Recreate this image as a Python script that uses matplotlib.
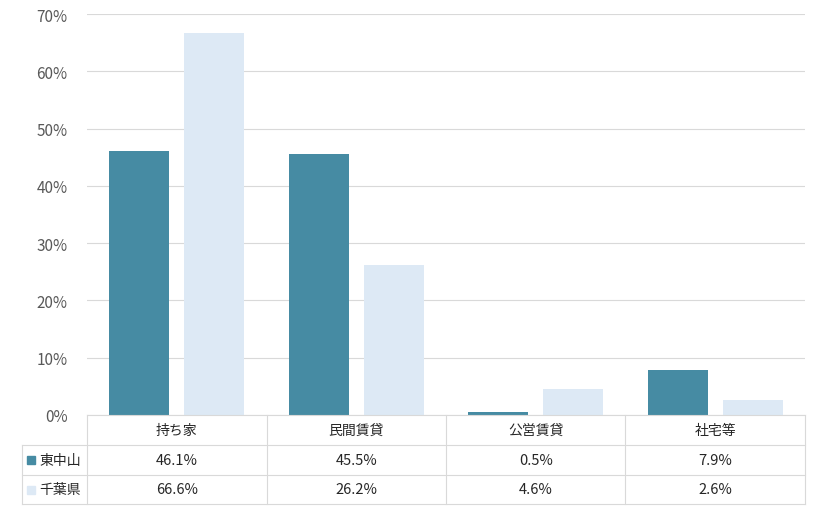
import matplotlib
matplotlib.use("Agg")
import matplotlib.pyplot as plt
from matplotlib.patches import Rectangle
import numpy as np

plt.rcParams['font.family'] = ['Noto Sans CJK JP', 'DejaVu Sans']

categories = ['持ち家', '民間賃貸', '公営賃貸', '社宅等']
series_names = ['東中山', '千葉県']
higashinakayama = [46.1, 45.5, 0.5, 7.9]
chiba = [66.6, 26.2, 4.6, 2.6]
colors = ['#468BA3', '#DDE9F5']

W, H = 820, 510
fig = plt.figure(figsize=(W / 100, H / 100), dpi=100)
x0, x1, ytop, ybot = 87, 805, 15, 416
ax = fig.add_axes([x0 / W, 1 - ybot / H, (x1 - x0) / W, (ybot - ytop) / H])

x = np.arange(len(categories))
bw = 0.334
ax.bar(x - 0.21, higashinakayama, bw, color=colors[0])
ax.bar(x + 0.21, chiba, bw, color=colors[1])
ax.set_xlim(-0.5, len(categories) - 0.5)
ax.set_ylim(0, 70)
ax.set_yticks(range(0, 71, 10))
ax.set_yticklabels([f'{v}%' for v in range(0, 71, 10)])
ax.set_xticks([])
ax.tick_params(axis='y', length=0, labelsize=11, colors='#595959', pad=14)
ax.grid(axis='y', color='#D9D9D9', linewidth=0.8)
ax.set_axisbelow(True)
for s in ax.spines.values():
    s.set_visible(False)

# data table below the plot
def fx(px):
    return px / W

def fy(py):
    return 1 - py / H

lc = '#D9D9D9'
rows = [416, 446, 476, 505]
cw = (x1 - x0) / len(categories)
for r in rows:
    left = x0 if r == 416 else 22
    fig.add_artist(plt.Line2D([fx(left), fx(x1)], [fy(r), fy(r)], color=lc, lw=0.8))
for k in range(len(categories) + 1):
    xp = x0 + k * cw
    fig.add_artist(plt.Line2D([fx(xp), fx(xp)], [fy(416), fy(505)], color=lc, lw=0.8))
fig.add_artist(plt.Line2D([fx(22), fx(22)], [fy(446), fy(505)], color=lc, lw=0.8))

tc = '#262626'
for i, c in enumerate(categories):
    fig.text(fx(x0 + (i + 0.5) * cw), fy(431), c, ha='center', va='center', fontsize=10, color=tc)
for j, (name, vals) in enumerate(zip(series_names, [higashinakayama, chiba])):
    yc = (rows[j + 1] + rows[j + 2]) / 2
    fig.add_artist(Rectangle((fx(27), fy(yc + 4)), 8 / W, 8 / H, color=colors[j]))
    fig.text(fx(39), fy(yc), name, ha='left', va='center', fontsize=10, color=tc)
    for i, v in enumerate(vals):
        fig.text(fx(x0 + (i + 0.5) * cw), fy(yc), f'{v}%', ha='center', va='center', fontsize=10.5, color=tc)

fig.savefig('out.png', dpi=100)
